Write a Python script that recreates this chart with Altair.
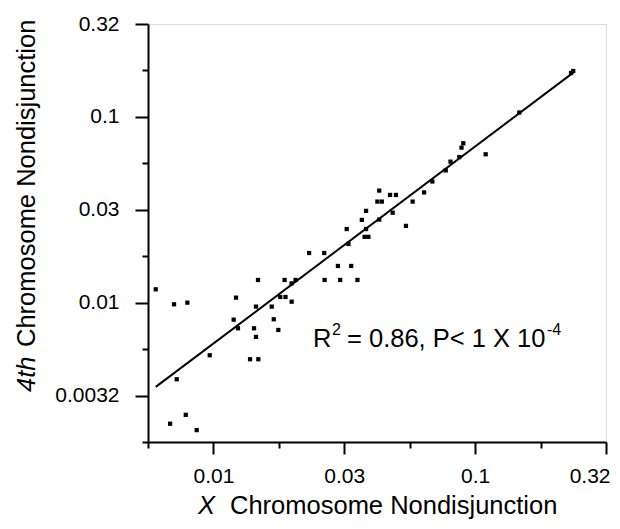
import altair as alt
import pandas as pd

# ---- data (log-log scatter) ----
x_vals = [0.00602, 0.00707, 0.00795, 0.0122, 0.0148, 0.01454, 0.01195, 0.01241, 0.01429, 0.01454,
          0.00968, 0.0138, 0.01484, 0.00724, 0.00784, 0.00683, 0.00863, 0.0232, 0.0265, 0.0328,
          0.0323, 0.0299, 0.0336, 0.0187, 0.0206, 0.0266, 0.0305, 0.0355, 0.0199, 0.0180,
          0.01885, 0.0199, 0.0167, 0.0170, 0.0177, 0.0378, 0.0391, 0.0383, 0.0369, 0.0383,
          0.0430, 0.0423, 0.0440, 0.0430, 0.0473, 0.0498, 0.0484, 0.0544, 0.0577, 0.0638,
          0.0686, 0.0772, 0.0805, 0.0870, 0.0887, 0.0901, 0.1097, 0.1475, 0.237, 0.2325]
y_vals = [0.0118, 0.00980, 0.0100, 0.01064, 0.01325, 0.00952, 0.00810, 0.00728, 0.00728, 0.00654,
          0.00521, 0.00496, 0.00496, 0.00387, 0.00249, 0.00223, 0.00206, 0.0185, 0.0185, 0.0207,
          0.0249, 0.01576, 0.01576, 0.01325, 0.01325, 0.01325, 0.01325, 0.01325, 0.0127, 0.01073,
          0.01073, 0.01012, 0.00952, 0.00814, 0.00713, 0.0226, 0.0226, 0.0249, 0.0279, 0.0312,
          0.0280, 0.0350, 0.0350, 0.0401, 0.0380, 0.0380, 0.0305, 0.0259, 0.0350, 0.0392,
          0.0449, 0.0515, 0.0574, 0.0608, 0.0683, 0.0721, 0.0629, 0.1056, 0.1766, 0.1723]

# fitted regression line (end points)
fit_x = [0.00602, 0.237]
fit_y = [0.00352, 0.173]

# axis ticks
x_major = [0.01, 0.03162, 0.1, 0.3162]
x_major_labels = ["0.01", "0.03", "0.1", "0.32"]
x_minor = [0.005623, 0.01778, 0.05623, 0.1778]
y_major = [0.003162, 0.01, 0.03162, 0.1, 0.3162]
y_major_labels = ["0.0032", "0.01", "0.03", "0.1", "0.32"]
y_minor = [0.001778, 0.005623, 0.01778, 0.05623, 0.1778]
x_domain = [0.005623, 0.3162]
y_domain = [0.001778, 0.3162]

x_title = ["X", "Chromosome Nondisjunction"]
y_title = ["4th", "Chromosome Nondisjunction"]
note = ["R", "2", "= 0.86, P< 1 X 10", "-4"]

FONT = "Liberation Sans"


def label_expr(vals, labels):
    expr = "''"
    for v, l in zip(reversed(vals), reversed(labels)):
        expr = f"abs(log(datum.value) - log({v})) < 0.01 ? '{l}' : ({expr})"
    return expr


major_test = "abs(log(datum.value)/LN10*2 - round(log(datum.value)/LN10*2)) < 0.02"

x_axis = alt.Axis(
    values=sorted(x_major + x_minor), labelExpr=label_expr(x_major, x_major_labels),
    title=None, grid=False, domainColor="black", domainWidth=2, tickColor="black",
    tickWidth=2, tickSize={"condition": {"test": major_test, "value": 12}, "value": 6},
    labelFont=FONT, labelFontSize=21, labelColor="black", labelPadding=11,
    labelFlush=True, labelFlushOffset=4, labelOverlap=False,
)
y_axis = alt.Axis(
    values=sorted(y_major + y_minor), labelExpr=label_expr(y_major, y_major_labels),
    title=None, grid=False, domainColor="black", domainWidth=2, tickColor="black",
    tickWidth=2, tickSize={"condition": {"test": major_test, "value": 13}, "value": 6},
    labelFont=FONT, labelFontSize=21, labelColor="black", labelPadding=16,
    labelFlush=False, labelOverlap=False,
)

xs = alt.Scale(type="log", domain=x_domain, nice=False)
ys = alt.Scale(type="log", domain=y_domain, nice=False)

pts = pd.DataFrame({"x": x_vals, "y": y_vals})
fit = pd.DataFrame({"x": fit_x, "y": fit_y})

points = alt.Chart(pts).mark_square(size=18, color="black", opacity=1).encode(
    x=alt.X("x:Q", scale=xs, axis=x_axis),
    y=alt.Y("y:Q", scale=ys, axis=y_axis),
)
line = alt.Chart(fit).mark_line(color="black", strokeWidth=2).encode(
    x=alt.X("x:Q", scale=xs), y=alt.Y("y:Q", scale=ys)
)


def txt(s, x, y, size, italic=False, angle=0):
    kw = dict(font=FONT, fontSize=size, color="black", align="left", baseline="alphabetic")
    if italic:
        kw["fontStyle"] = "italic"
    if angle:
        kw["angle"] = angle
    return alt.Chart(pd.DataFrame({"t": [s]})).mark_text(**kw).encode(
        text="t:N", x=alt.value(x), y=alt.value(y)
    )


texts = [
    txt(x_title[0], 50, 490, 25.5, italic=True),
    txt(x_title[1], 82, 490, 25.5),
    txt(y_title[0], -113, 368, 25.5, italic=True, angle=270),
    txt(y_title[1], -113, 323, 25.5, angle=270),
    txt(note[0], 165, 323, 25.5),
    txt(note[1], 184, 311, 16),
    txt(note[2], 199, 323, 25.5),
    txt(note[3], 399, 311, 16),
]

chart = alt.layer(line, points, *texts).properties(
    width=458, height=418,
    padding={"left": 140, "top": 16, "right": 6, "bottom": 79},
    autosize=alt.AutoSizeParams(type="none"),
).configure_view(stroke=None).configure(background="white")

chart.save("out.html", embed_options={"renderer": "svg", "actions": False})
